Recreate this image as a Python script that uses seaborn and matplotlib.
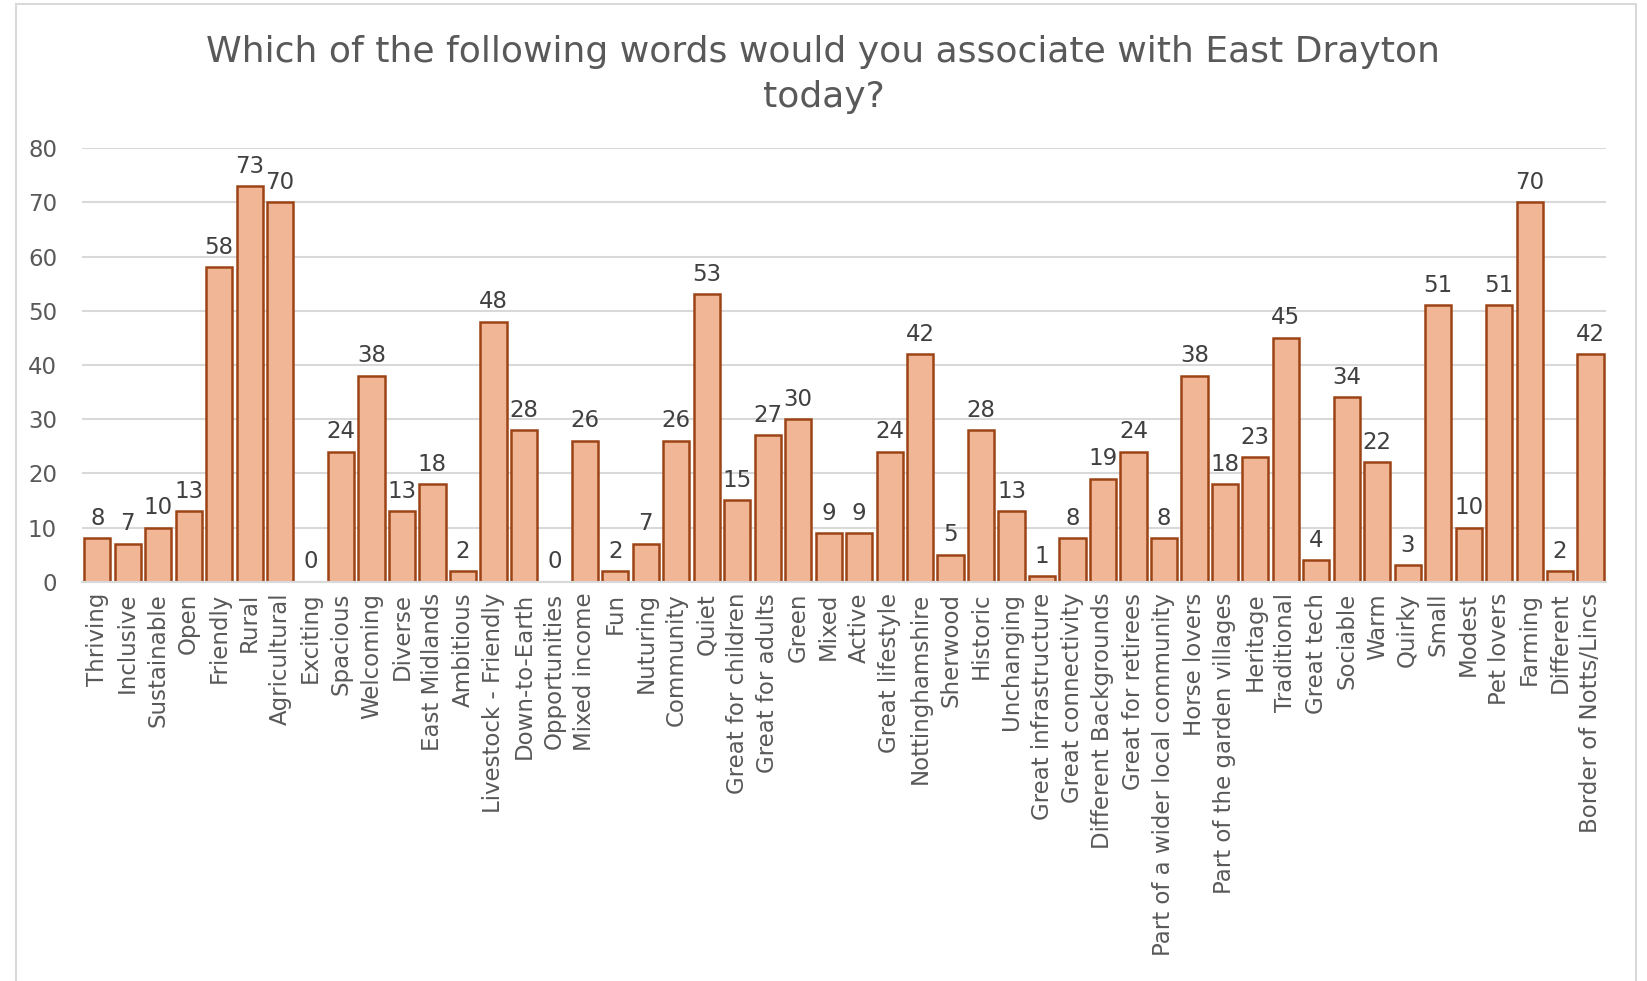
import pandas as pd
import matplotlib
matplotlib.use('Agg')
import matplotlib.pyplot as plt
import matplotlib.patches as mpatches
import seaborn as sns

# Survey answers
words = ['Thriving', 'Inclusive', 'Sustainable', 'Open', 'Friendly', 'Rural',
         'Agricultural', 'Exciting', 'Spacious', 'Welcoming', 'Diverse',
         'East Midlands', 'Ambitious', 'Livestock - Friendly', 'Down-to-Earth',
         'Opportunities', 'Mixed income', 'Fun', 'Nuturing', 'Community', 'Quiet',
         'Great for children', 'Great for adults', 'Green', 'Mixed', 'Active',
         'Great lifestyle', 'Nottinghamshire', 'Sherwood', 'Historic', 'Unchanging',
         'Great infrastructure', 'Great connectivity', 'Different Backgrounds',
         'Great for retirees', 'Part of a wider local community', 'Horse lovers',
         'Part of the garden villages', 'Heritage', 'Traditional', 'Great tech',
         'Sociable', 'Warm', 'Quirky', 'Small', 'Modest', 'Pet lovers', 'Farming',
         'Different', 'Border of Notts/Lincs']
counts = [8, 7, 10, 13, 58, 73, 70, 0, 24, 38, 13, 18, 2, 48, 28, 0, 26, 2, 7, 26,
          53, 15, 27, 30, 9, 9, 24, 42, 5, 28, 13, 1, 8, 19, 24, 8, 38, 18, 23, 45,
          4, 34, 22, 3, 51, 10, 51, 70, 2, 42]
y_ticks = [0, 10, 20, 30, 40, 50, 60, 70, 80]

df = pd.DataFrame({'Word': words, 'Count': counts})

text_col = '#595959'
sns.set_style('white')
plt.rcParams['font.family'] = ['DejaVu Sans']

fig = plt.figure(figsize=(16.47, 9.81), dpi=100)
ax = fig.add_axes([0.0498, 0.407, 0.9252, 0.442])

sns.barplot(data=df, x='Word', y='Count', color='#F1B696', edgecolor='#9C4416',
            linewidth=1.8, width=0.86, saturation=1, ax=ax)

for c in ax.containers:
    ax.bar_label(c, padding=6, fontsize=16.5, color='#404040')

ax.set_ylim(0, 80)
ax.set_yticks(y_ticks)
ax.set_xlim(-0.5, len(words) - 0.5)
ax.yaxis.grid(True, color='#D9D9D9', linewidth=1.5)
ax.set_axisbelow(True)
for s in ['top', 'right', 'left']:
    ax.spines[s].set_visible(False)
ax.spines['bottom'].set_color('#D9D9D9')
ax.spines['bottom'].set_linewidth(1.5)
ax.tick_params(axis='both', length=0, colors=text_col, labelsize=16.5)
ax.tick_params(axis='y', pad=18)
ax.tick_params(axis='x', pad=8)
plt.setp(ax.get_xticklabels(), rotation=90)
ax.set_xlabel('')
ax.set_ylabel('')

fig.suptitle('Which of the following words would you associate with East Drayton\ntoday?',
             x=0.5, y=0.964, fontsize=26, color=text_col, linespacing=1.38)

# chart frame
fig.patches.append(mpatches.Rectangle((16 / 1647, -0.01), 1620 / 1647, 1 - 4 / 981 + 0.01,
                                      transform=fig.transFigure, fill=False,
                                      edgecolor='#D9D9D9', linewidth=1.5))

fig.savefig('out.png', dpi=100)
